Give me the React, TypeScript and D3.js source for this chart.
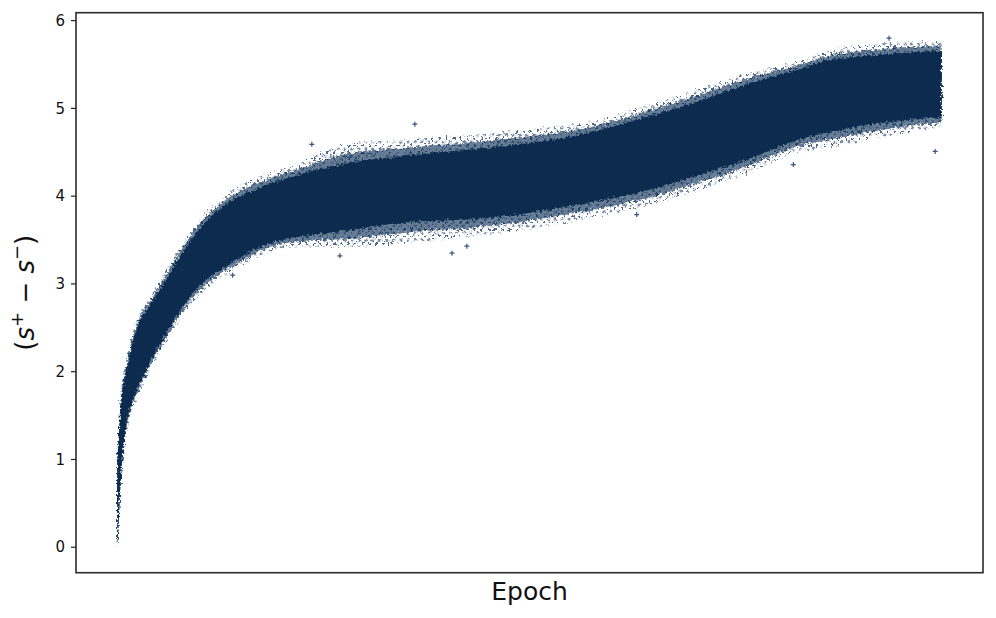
import React from 'react';
import * as d3 from 'd3';

// epoch normalised to 0..1000, band edges
const epochs = [0, 2, 4, 7, 13, 19, 24, 40, 60, 80, 100, 140, 180, 215, 280, 340, 460, 520, 585, 645, 705, 765, 825, 865, 925, 1000];
const outerHigh = [1.0, 1.35, 1.7, 1.92, 2.2, 2.45, 2.6, 2.85, 3.17, 3.47, 3.74, 4.07, 4.25, 4.36, 4.6, 4.64, 4.72, 4.78, 4.87, 5.04, 5.22, 5.4, 5.53, 5.66, 5.74, 5.77];
const coreHigh = [0.95, 1.25, 1.6, 1.82, 2.1, 2.35, 2.5, 2.75, 3.07, 3.37, 3.63, 3.95, 4.12, 4.23, 4.38, 4.45, 4.56, 4.63, 4.75, 4.91, 5.08, 5.28, 5.44, 5.55, 5.61, 5.66];
const coreLow = [0, 0.35, 0.75, 1.1, 1.5, 1.68, 1.8, 2.12, 2.45, 2.75, 2.98, 3.25, 3.45, 3.53, 3.61, 3.69, 3.76, 3.84, 3.95, 4.07, 4.24, 4.42, 4.64, 4.73, 4.83, 4.9];
const outerLow = [0, 0.25, 0.65, 1.0, 1.4, 1.6, 1.7, 2.02, 2.35, 2.65, 2.88, 3.15, 3.35, 3.43, 3.42, 3.46, 3.58, 3.66, 3.77, 3.9, 4.07, 4.26, 4.5, 4.56, 4.67, 4.79];

// stray points outside the band
const outlierEpochs = [992, 361, 406, 270, 424, 630, 820, 936, 140, 236];
const outlierValues = [4.51, 4.82, 3.35, 3.32, 3.43, 3.79, 4.36, 5.8, 3.1, 4.59];

const yTicks = [0, 1, 2, 3, 4, 5, 6];

const W = 996;
const H = 618;
const left = 76, right = 983, top = 12.7, bottom = 572.7;
const navy = '#072a50';

export default function App() {
  const x = d3.scaleLinear().domain([-50, 1050]).range([left, right]);
  const y = d3.scaleLinear().domain([-0.29, 6.09]).range([bottom, top]);

  const rows = epochs.map((e, i) => ({ e, oh: outerHigh[i], ch: coreHigh[i], cl: coreLow[i], ol: outerLow[i] }));

  const outerArea = d3.area<any>()
    .x(d => x(d.e))
    .y0(d => y(d.ol))
    .y1(d => y(d.oh))
    .curve(d3.curveMonotoneX)(rows);

  const midArea = d3.area<any>()
    .x(d => x(d.e))
    .y0(d => y((d.ol + d.cl) / 2))
    .y1(d => y((d.oh + d.ch) / 2))
    .curve(d3.curveMonotoneX)(rows);

  const coreArea = d3.area<any>()
    .x(d => x(d.e))
    .y0(d => y(d.cl))
    .y1(d => y(d.ch))
    .curve(d3.curveMonotoneX)(rows);

  const plus = (cx: number, cy: number) => `M${cx - 2.5},${cy}h5M${cx},${cy - 2.5}v5`;

  return (
    <svg width={W} height={H} style={{ position: 'absolute', left: 0, top: 0, background: '#fff' }}
      fontFamily="'DejaVu Sans', sans-serif">
      <defs>
        <pattern id="speck" width="7" height="7" patternUnits="userSpaceOnUse">
          <path d="M0.5,2h3M2,0.5v3M4,5.5h3M5.5,4v3" stroke="#2f4d74" strokeWidth="1" />
        </pattern>
        <filter id="rough" x="-5%" y="-5%" width="110%" height="110%">
          <feTurbulence type="fractalNoise" baseFrequency="0.4" numOctaves="2" seed="4" result="n" />
          <feDisplacementMap in="SourceGraphic" in2="n" scale="6" xChannelSelector="R" yChannelSelector="G" />
        </filter>
        <clipPath id="plot">
          <rect x={left} y={top} width={right - left} height={bottom - top} />
        </clipPath>
      </defs>

      <g clipPath="url(#plot)">
        <g filter="url(#rough)">
          <path d={outerArea ?? ''} fill="url(#speck)" opacity={0.85} />
          <path d={midArea ?? ''} fill={navy} opacity={0.6} />
          <path d={coreArea ?? ''} fill={navy} />
        </g>
        {outlierEpochs.map((e, i) => (
          <path key={i} d={plus(x(e), y(outlierValues[i]))} stroke="#3a5679" strokeWidth={1.2} />
        ))}
      </g>

      {/* frame */}
      <rect x={left} y={top} width={right - left} height={bottom - top} fill="none" stroke="#2b2b2b" strokeWidth={1.6} />

      {/* y axis ticks */}
      {yTicks.map(t => (
        <g key={t} transform={`translate(${left},${y(t)})`}>
          <line x1={-5} x2={0} stroke="#222" strokeWidth={1.2} />
          <text x={-11} dy="0.35em" textAnchor="end" fontSize={15} fill="#111">{t}</text>
        </g>
      ))}

      {/* axis labels */}
      <text x={(left + right) / 2} y={600} textAnchor="middle" fontSize={25} fill="#111">Epoch</text>
      <text transform={`translate(34,${(top + bottom) / 2}) rotate(-90)`} textAnchor="middle" fontSize={26} fill="#111">
        <tspan>(</tspan>
        <tspan fontStyle="italic">s</tspan>
        <tspan fontSize={18} dy={-11}>+</tspan>
        <tspan dy={11}> − </tspan>
        <tspan fontStyle="italic">s</tspan>
        <tspan fontSize={18} dy={-11}>−</tspan>
        <tspan dy={11}>)</tspan>
      </text>
    </svg>
  );
}
